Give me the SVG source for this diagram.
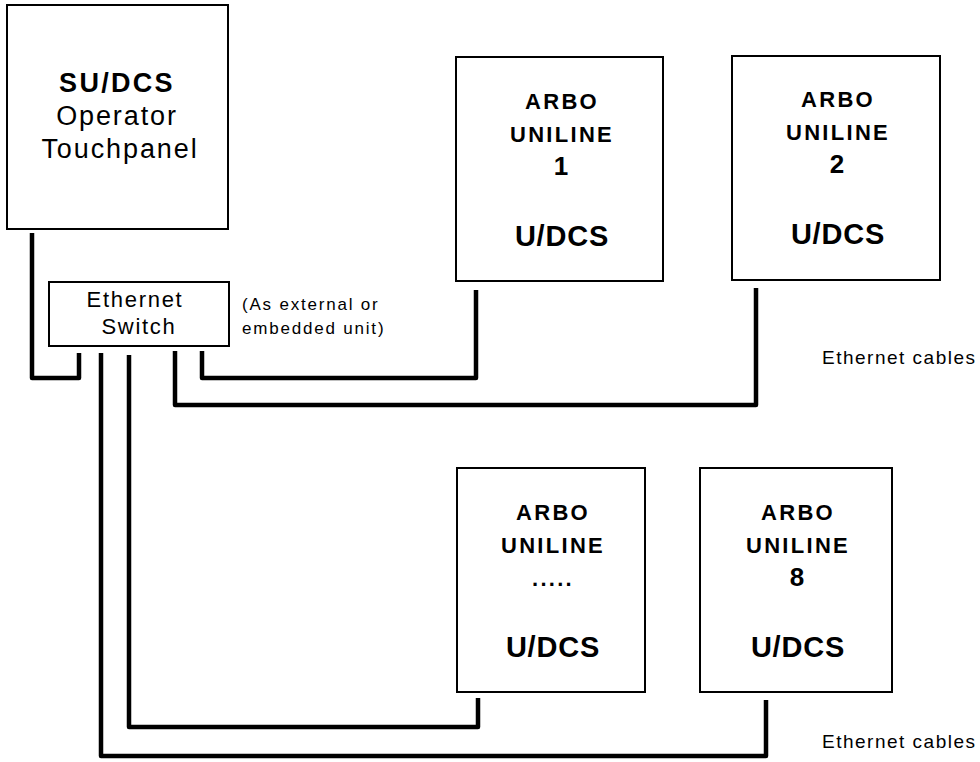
<svg xmlns="http://www.w3.org/2000/svg" width="980" height="762" viewBox="0 0 980 762">
<style>
.box{fill:#fff;stroke:#000;stroke-width:2}
.cable{fill:none;stroke:#000;stroke-width:4.5;stroke-linejoin:round}
text{font-family:"Liberation Sans",Arial,sans-serif;fill:#000;text-anchor:middle}
.b21{font-size:22px;font-weight:bold;letter-spacing:2.3px}
.num{font-size:26px;font-weight:bold}
.b27{font-size:29px;font-weight:bold;letter-spacing:0.8px}
.b25{font-size:27px;font-weight:bold;letter-spacing:2.3px}
.n25{font-size:27px;letter-spacing:1.9px}
.n21{font-size:22px;letter-spacing:1.7px}
.note{font-size:17px;letter-spacing:1.8px;text-anchor:start}
.lbl{font-size:19px;letter-spacing:1.5px;text-anchor:start}
</style>
<rect width="980" height="762" fill="#fff"/>
<g id="connectors">
<path class="cable" d="M32,233 V378 H79 V353"/>
<path class="cable" d="M202,351 V378 H476 V290"/>
<path class="cable" d="M175,351 V405 H756 V288"/>
<path class="cable" d="M129,355 V727 H478 V698"/>
<path class="cable" d="M101,353 V756 H766 V700"/>
</g>
<g id="operator">
<rect class="box" x="7" y="5" width="221" height="224"/>
<text class="b25" x="117" y="92">SU/DCS</text>
<text class="n25" x="117" y="125">Operator</text>
<text class="n25" x="120" y="158">Touchpanel</text>
</g>
<g id="switch">
<rect class="box" x="49" y="282" width="180" height="64"/>
<text class="n21" x="135" y="307">Ethernet</text>
<text class="n21" x="139" y="334">Switch</text>
</g>
<g id="switch-note">
<text class="note" x="242" y="310">(As external or</text>
<text class="note" x="242" y="334">embedded unit)</text>
</g>
<g id="uniline1">
<rect class="box" x="456" y="57" width="207" height="224"/>
<text class="b21" x="562" y="109">ARBO</text>
<text class="b21" x="562" y="142">UNILINE</text>
<text class="num" x="561" y="175">1</text>
<text class="b27" x="562" y="246">U/DCS</text>
</g>
<g id="uniline2">
<rect class="box" x="732" y="56" width="208" height="224"/>
<text class="b21" x="838" y="107">ARBO</text>
<text class="b21" x="838" y="140">UNILINE</text>
<text class="num" x="837" y="173">2</text>
<text class="b27" x="838" y="244">U/DCS</text>
</g>
<g id="uniline-n">
<rect class="box" x="457" y="468" width="188" height="224"/>
<text class="b21" x="553" y="520">ARBO</text>
<text class="b21" x="553" y="553">UNILINE</text>
<text class="b21" x="553" y="586">.....</text>
<text class="b27" x="553" y="657">U/DCS</text>
</g>
<g id="uniline8">
<rect class="box" x="700" y="468" width="192" height="224"/>
<text class="b21" x="798" y="520">ARBO</text>
<text class="b21" x="798" y="553">UNILINE</text>
<text class="num" x="797" y="586">8</text>
<text class="b27" x="798" y="657">U/DCS</text>
</g>
<g id="cable-labels">
<text class="lbl" x="822" y="364">Ethernet cables</text>
<text class="lbl" x="822" y="748">Ethernet cables</text>
</g>
</svg>
